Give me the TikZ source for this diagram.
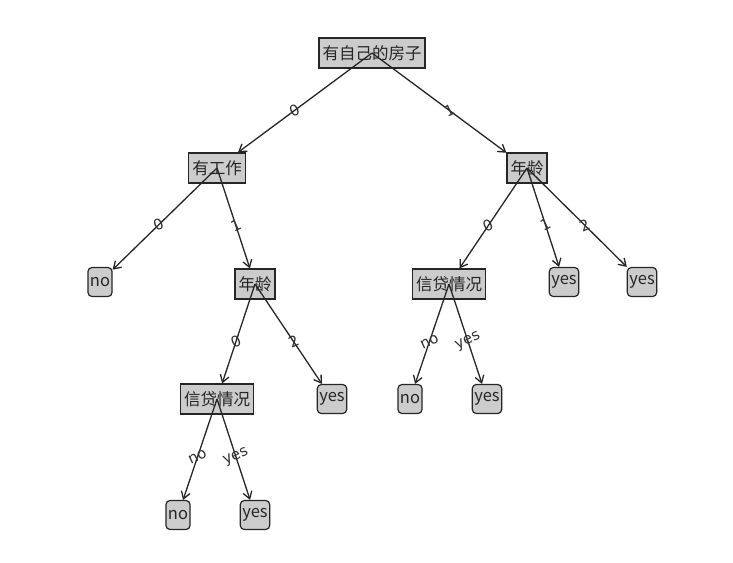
\documentclass[tikz,border=0pt]{standalone}
\usepackage{fontspec}
\setmainfont{DejaVu Sans}
\newfontfamily\cjk{Noto Sans CJK SC}
\usetikzlibrary{arrows.meta,calc}
\begin{document}
\begin{tikzpicture}[x=1pt,y=-1pt,
 base/.style={draw=black!85,line width=1.2pt,fill=black!20,font=\fontsize{16.5}{18}\selectfont\cjk,text=black!85},
 dec/.style={base,minimum height=30,inner xsep=3.5pt,inner ysep=2pt},
 leaf/.style={base,rounded corners=4pt,minimum height=29,inner xsep=2pt,inner ysep=2pt},
 edge/.style={draw=black!85,line width=1.3pt,-{Straight Barb[length=7pt,width=9pt]}},
 lab/.style={rotate=25,font=\fontsize{15}{17}\selectfont,text=black!80,inner sep=0pt}]
\useasboundingbox (0,0) rectangle (733,562);
\node[dec] (r) at (372,53) {有自己的房子};
\node[dec] (a) at (217,168) {有工作};
\node[dec] (b) at (527,168) {年龄};
\node[leaf] (a0) at (100,282) {no};
\node[dec] (a1) at (255,284) {年龄};
\node[dec] (b0) at (449,284) {信贷情况};
\node[leaf] (b1) at (564,282) {yes};
\node[leaf] (b2) at (642,282) {yes};
\node[dec] (c0) at (217,399) {信贷情况};
\node[leaf] (c2) at (332,399) {yes};
\node[leaf] (d0) at (410,399) {no};
\node[leaf] (d1) at (487,399) {yes};
\node[leaf] (e0) at (178,515) {no};
\node[leaf] (e1) at (255,515) {yes};
\foreach \p/\c/\t in {r/a/0,r/b/1,a/a0/0,a/a1/1,b/b0/0,b/b1/1,b/b2/2,a1/c0/0,a1/c2/2,b0/d0/no,b0/d1/yes,c0/e0/no,c0/e1/yes}{
 \draw[edge] (\p.center) -- (\c);
 \path (\p.center) -- (\c.center) node[midway,lab]{\t};
}
\end{tikzpicture}
\end{document}
